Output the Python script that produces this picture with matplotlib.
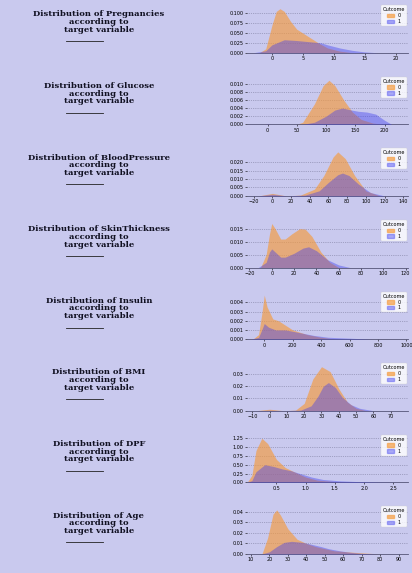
import matplotlib
matplotlib.use("Agg")
import matplotlib.pyplot as plt
from matplotlib.patches import Patch

BG = "#c9c9ee"
C0 = "#f59a3c"
C1 = "#3a3af0"
names = ["Pregnancies", "Glucose", "BloodPressure", "SkinThickness", "Insulin", "BMI", "DPF", "Age"]

# density curves: (x, y) for Outcome 0 and Outcome 1
preg_x0 = [-2, -1, 0, 0.7, 1.3, 2, 3, 4, 5, 6, 7.5, 9, 11, 13]
preg_y0 = [0, 0.01, 0.07, 0.105, 0.112, 0.105, 0.08, 0.06, 0.05, 0.04, 0.025, 0.012, 0.004, 0]
preg_x1 = [-3, -1, 0, 2, 4, 6, 8, 9, 11, 13, 15, 17]
preg_y1 = [0, 0.005, 0.02, 0.033, 0.031, 0.028, 0.025, 0.02, 0.012, 0.006, 0.002, 0]

gluc_x0 = [-5, 0, 5, 50, 60, 80, 95, 105, 115, 130, 145, 160, 180, 200]
gluc_y0 = [0, 0.0002, 0, 0, 0.0005, 0.005, 0.0095, 0.0108, 0.0095, 0.006, 0.003, 0.0012, 0.0003, 0]
gluc_x1 = [-5, 0, 5, 60, 80, 100, 115, 128, 140, 155, 170, 185, 200, 212]
gluc_y1 = [0, 0.0001, 0, 0, 0.0005, 0.002, 0.0035, 0.004, 0.0036, 0.0032, 0.003, 0.0025, 0.001, 0]

bp_x0 = [-15, -5, 0, 5, 15, 30, 45, 55, 65, 70, 78, 88, 100, 115]
bp_y0 = [0, 0.001, 0.0015, 0.001, 0, 0.0005, 0.004, 0.012, 0.023, 0.026, 0.022, 0.012, 0.003, 0]
bp_x1 = [-15, -5, 0, 5, 15, 35, 50, 60, 70, 75, 82, 92, 105, 120]
bp_y1 = [0, 0.0007, 0.001, 0.0007, 0, 0.0005, 0.003, 0.008, 0.0125, 0.0135, 0.012, 0.007, 0.002, 0]

skin_x0 = [-10, -5, -2, 0, 3, 8, 12, 18, 25, 30, 36, 44, 52, 60]
skin_y0 = [0, 0.005, 0.013, 0.017, 0.015, 0.011, 0.011, 0.013, 0.015, 0.0148, 0.012, 0.006, 0.002, 0]
skin_x1 = [-12, -5, -2, 0, 3, 8, 12, 20, 28, 33, 40, 50, 60, 70]
skin_y1 = [0, 0.002, 0.006, 0.0072, 0.006, 0.004, 0.004, 0.0055, 0.0075, 0.008, 0.0065, 0.003, 0.001, 0]

ins_x0 = [-80, -40, -15, 0, 20, 60, 100, 150, 200, 300, 400, 500]
ins_y0 = [0, 0.0005, 0.003, 0.0048, 0.0035, 0.0022, 0.002, 0.0015, 0.001, 0.0005, 0.0002, 0]
ins_x1 = [-90, -40, -15, 0, 30, 80, 150, 250, 350, 450, 600, 750]
ins_y1 = [0, 0.0002, 0.0011, 0.0017, 0.0013, 0.001, 0.001, 0.0007, 0.0004, 0.0002, 0.0001, 0]

bmi_x0 = [-8, -3, 0, 3, 8, 15, 20, 25, 30, 35, 40, 45, 50, 56]
bmi_y0 = [0, 0.0008, 0.0012, 0.0008, 0, 0.0005, 0.006, 0.026, 0.036, 0.032, 0.018, 0.007, 0.002, 0]
bmi_x1 = [-8, 0, 8, 18, 24, 28, 31, 34, 38, 42, 47, 52, 60]
bmi_y1 = [0, 0.0004, 0, 0.0005, 0.004, 0.012, 0.02, 0.023, 0.019, 0.011, 0.005, 0.002, 0]

dpf_x0 = [0.0, 0.08, 0.15, 0.25, 0.35, 0.5, 0.65, 0.8, 1.0, 1.2, 1.5, 1.8]
dpf_y0 = [0, 0.2, 0.9, 1.25, 1.1, 0.65, 0.42, 0.3, 0.15, 0.06, 0.02, 0]
dpf_x1 = [0.0, 0.08, 0.15, 0.3, 0.45, 0.6, 0.75, 0.9, 1.1, 1.3, 1.6, 1.9, 2.3, 2.6]
dpf_y1 = [0, 0.05, 0.3, 0.5, 0.45, 0.38, 0.33, 0.25, 0.15, 0.08, 0.04, 0.02, 0.005, 0]

age_x0 = [16, 19, 22, 24, 26, 30, 35, 40, 45, 50, 55, 62, 70, 80]
age_y0 = [0, 0.015, 0.038, 0.042, 0.037, 0.024, 0.014, 0.01, 0.007, 0.005, 0.003, 0.002, 0.001, 0]
age_x1 = [16, 20, 24, 28, 32, 38, 42, 48, 52, 58, 64, 70, 78]
age_y1 = [0, 0.002, 0.007, 0.011, 0.012, 0.011, 0.0095, 0.007, 0.005, 0.003, 0.0015, 0.0005, 0]

curves = [
    (preg_x0, preg_y0, preg_x1, preg_y1),
    (gluc_x0, gluc_y0, gluc_x1, gluc_y1),
    (bp_x0, bp_y0, bp_x1, bp_y1),
    (skin_x0, skin_y0, skin_x1, skin_y1),
    (ins_x0, ins_y0, ins_x1, ins_y1),
    (bmi_x0, bmi_y0, bmi_x1, bmi_y1),
    (dpf_x0, dpf_y0, dpf_x1, dpf_y1),
    (age_x0, age_y0, age_x1, age_y1),
]
xlims = [(-4, 22), (-35, 240), (-27, 145), (-22, 122), (-120, 1010), (-13, 80), (0.0, 2.75), (8, 95)]
xticks = [[0, 5, 10, 15, 20], [0, 50, 100, 150, 200], [-20, 0, 20, 40, 60, 80, 100, 120, 140],
          [-20, 0, 20, 40, 60, 80, 100, 120], [0, 200, 400, 600, 800, 1000],
          [-10, 0, 10, 20, 30, 40, 50, 60, 70], [0.5, 1.0, 1.5, 2.0, 2.5],
          [10, 20, 30, 40, 50, 60, 70, 80, 90]]
yticks = [[0, 0.025, 0.05, 0.075, 0.1], [0, 0.002, 0.004, 0.006, 0.008, 0.01],
          [0, 0.005, 0.01, 0.015, 0.02], [0, 0.005, 0.01, 0.015],
          [0, 0.001, 0.002, 0.003, 0.004], [0, 0.01, 0.02, 0.03],
          [0, 0.25, 0.5, 0.75, 1.0, 1.25], [0, 0.01, 0.02, 0.03, 0.04]]
yfmt = ["{:.3f}", "{:.3f}", "{:.3f}", "{:.3f}", "{:.3f}", "{:.2f}", "{:.2f}", "{:.2f}"]

fig = plt.figure(figsize=(4.12, 5.73), dpi=100, facecolor=BG)
row_h = 71.6 / 573
for i, name in enumerate(names):
    top = 1 - i * row_h
    fig.text(0.24, top - 0.018, f"Distribution of {name}\naccording to\ntarget variable",
             ha="center", va="top", fontsize=6, family="DejaVu Serif", weight="bold",
             linespacing=0.95, color="#111122")
    fig.add_artist(plt.Line2D([0.16, 0.25], [top - 0.072, top - 0.072], transform=fig.transFigure,
                              color="#222222", lw=0.6))
    ax = fig.add_axes([0.60, top - 0.092, 0.39, 0.083], facecolor=BG)
    x0, y0, x1, y1 = curves[i]
    ax.fill_between(x0, y0, color=C0, alpha=0.65, lw=0, zorder=2)
    ax.fill_between(x1, y1, color=C1, alpha=0.4, lw=0, zorder=3)
    ax.set_xlim(*xlims[i])
    ax.set_ylim(0, max(max(y0), max(y1)) * 1.08)
    ax.set_xticks(xticks[i])
    ax.set_yticks(yticks[i])
    ax.set_yticklabels([yfmt[i].format(v) for v in yticks[i]])
    ax.tick_params(labelsize=3.5, length=1.5, width=0.4, pad=1)
    ax.grid(axis="y", linestyle=":", color="#777799", lw=0.5, zorder=0)
    for s in ["top", "right", "left"]:
        ax.spines[s].set_visible(False)
    ax.spines["bottom"].set_color("#555577")
    ax.spines["bottom"].set_linewidth(0.6)
    h = [Patch(color=C0, alpha=0.65), Patch(color=C1, alpha=0.4)]
    leg = ax.legend(h, ["0", "1"], title="Outcome", fontsize=3.5, title_fontsize=3.5,
                    loc="upper right", handlelength=1.5, handleheight=0.7, borderpad=0.4,
                    labelspacing=0.2, frameon=True, bbox_to_anchor=(1.01, 1.05))
    leg.get_frame().set_linewidth(0.3)

fig.savefig("out.png", dpi=100, facecolor=BG)
